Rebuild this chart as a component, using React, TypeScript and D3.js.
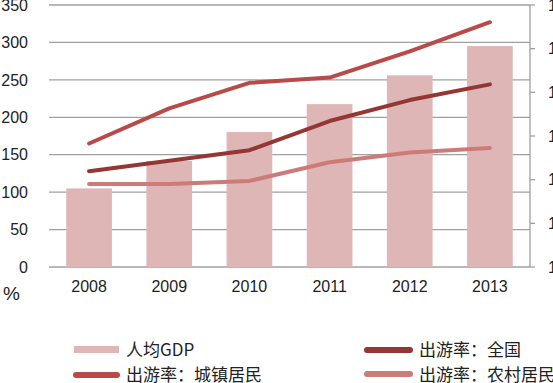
import React from "react";
import * as d3 from "d3";

const years = ["2008", "2009", "2010", "2011", "2012", "2013"];
// 人均GDP (right axis units)
const gdpValues = [11.8, 12.43, 13.09, 13.73, 14.39, 15.06];
// 出游率 (%), left axis
const rateNational = [128, 142, 156, 195, 223, 244];
const rateUrban = [165, 212, 246, 253, 288, 327];
const rateRural = [111, 111, 115, 140, 153, 159];
const leftTicks = [0, 50, 100, 150, 200, 250, 300, 350];
const rightTicks = [10, 11, 12, 13, 14, 15, 16];

const W = 553;
const H = 383;
const plotLeft = 49;
const plotRight = 530;
const plotTop = 5;
const plotBottom = 267;

const C_BAR = "#dfb6b6";
const C_NAT = "#943634";
const C_URB = "#b84a47";
const C_RUR = "#cd7b79";
const C_GRID = "#a0a0a0";

const numFont = "'Liberation Sans', Arial, sans-serif";
const cjkFont = "'Noto Sans CJK SC', 'Liberation Sans', sans-serif";

export default function App() {
  const x = d3.scaleBand<string>().domain(years).range([plotLeft, plotRight]).paddingInner(0.43).paddingOuter(0.215);
  const yL = d3.scaleLinear().domain([0, 350]).range([plotBottom, plotTop]);
  const yR = d3.scaleLinear().domain([10, 16]).range([plotBottom, plotTop]);
  const cx = (y: string) => (x(y) ?? 0) + x.bandwidth() / 2;

  const line = d3
    .line<number>()
    .x((_, i) => cx(years[i]))
    .y((d) => yL(d));

  const series = [
    { vals: rateUrban, color: C_URB },
    { vals: rateNational, color: C_NAT },
    { vals: rateRural, color: C_RUR },
  ];

  return (
    <svg width={W} height={H} style={{ position: "absolute", left: 0, top: 0, background: "#fff" }}>
      {/* gridlines */}
      {leftTicks.map((t) => (
        <line key={t} x1={plotLeft} x2={plotRight} y1={yL(t)} y2={yL(t)} stroke={C_GRID} strokeWidth={1.3} />
      ))}
      {/* left labels */}
      {leftTicks.map((t) => (
        <text key={"l" + t} x={28} y={yL(t)} dy="0.36em" textAnchor="end" fontFamily={numFont} fontSize={16} fill="#222">
          {t}
        </text>
      ))}
      {/* bars */}
      {years.map((yr, i) => (
        <rect key={yr} x={x(yr)} y={yR(gdpValues[i])} width={x.bandwidth()} height={plotBottom - yR(gdpValues[i])} fill={C_BAR} />
      ))}
      {/* lines */}
      {series.map((s, i) => (
        <path key={i} d={line(s.vals) ?? ""} fill="none" stroke={s.color} strokeWidth={4} strokeLinecap="round" strokeLinejoin="round" />
      ))}
      {/* right axis */}
      <line x1={plotRight} x2={plotRight} y1={plotTop} y2={plotBottom} stroke={C_GRID} strokeWidth={1.3} />
      {rightTicks.map((t) => (
        <g key={"r" + t}>
          <line x1={plotRight} x2={plotRight + 5} y1={yR(t)} y2={yR(t)} stroke={C_GRID} strokeWidth={1.3} />
          <text x={548} y={yR(t)} dy="0.36em" fontFamily={numFont} fontSize={16} fill="#222">
            {t}
          </text>
        </g>
      ))}
      {/* x labels */}
      {years.map((yr) => (
        <text key={"x" + yr} x={cx(yr)} y={292} textAnchor="middle" fontFamily={numFont} fontSize={16} fill="#222">
          {yr}
        </text>
      ))}
      <text x={3} y={300} fontFamily={numFont} fontSize={19} fill="#222">
        %
      </text>
      {/* legend */}
      <rect x={74} y={346} width={45} height={7} fill={C_BAR} />
      <text x={126} y={356} fontFamily={cjkFont} fontSize={17} fill="#222">
        人均GDP
      </text>
      <line x1={76} x2={117} y1={375} y2={375} stroke={C_URB} strokeWidth={6} strokeLinecap="round" />
      <text x={126} y={381} fontFamily={cjkFont} fontSize={17} fill="#222">
        出游率：城镇居民
      </text>
      <line x1={367} x2={410} y1={350} y2={350} stroke={C_NAT} strokeWidth={6} strokeLinecap="round" />
      <text x={419} y={356} fontFamily={cjkFont} fontSize={17} fill="#222">
        出游率：全国
      </text>
      <line x1={367} x2={410} y1={374} y2={374} stroke={C_RUR} strokeWidth={6} strokeLinecap="round" />
      <text x={419} y={381} fontFamily={cjkFont} fontSize={17} fill="#222">
        出游率：农村居民
      </text>
    </svg>
  );
}
